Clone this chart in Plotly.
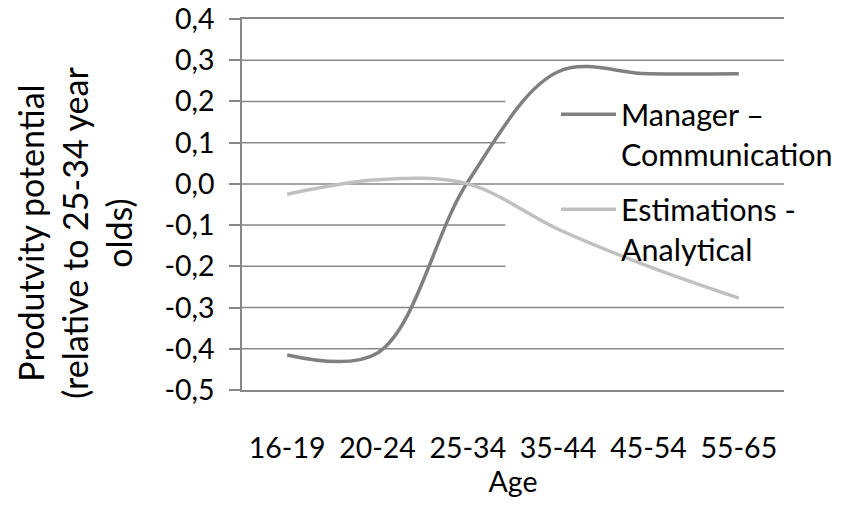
import plotly.graph_objects as go

categories = ["16-19", "20-24", "25-34", "35-44", "45-54", "55-65"]
manager_communication = [-0.415, -0.41, 0.005, 0.272, 0.267, 0.267]
estimations_analytical = [-0.025, 0.01, 0.0, -0.11, -0.2, -0.277]
y_tick_values = [0.4, 0.3, 0.2, 0.1, 0.0, -0.1, -0.2, -0.3, -0.4, -0.5]
y_tick_labels = ["0,4", "0,3", "0,2", "0,1", "0,0", "-0,1", "-0,2", "-0,3", "-0,4", "-0,5"]
# gridlines that stop short where the legend sits
legend_cut_ticks = [0.2, 0.1, -0.1, -0.2]

FONT = "Lato, Carlito, Calibri, sans-serif"
GRID = "#878787"
Y_MIN, Y_MAX = -0.5, 0.4

fig = go.Figure()
fig.add_trace(go.Scatter(
    x=categories, y=manager_communication, mode="lines",
    name="Manager –<br>Communication", legend="legend",
    line=dict(color="#808080", width=3.5, shape="spline", smoothing=1.0),
))
fig.add_trace(go.Scatter(
    x=categories, y=estimations_analytical, mode="lines",
    name="Estimations -<br>Analytical", legend="legend2",
    line=dict(color="#c0c0c0", width=3.5, shape="spline", smoothing=1.0),
))

# horizontal gridlines (interior ticks), drawn beneath the traces
for v in y_tick_values:
    if v in (Y_MIN, Y_MAX):
        continue
    x_end = 0.486 if v in legend_cut_ticks else 1.0
    fig.add_shape(type="line", xref="x domain", yref="y", x0=0, x1=x_end,
                  y0=v, y1=v, line=dict(color=GRID, width=1.5), layer="below")

fig.add_annotation(
    text="Produtvity potential<br>(relative to 25-34 year<br>olds)",
    xref="paper", yref="paper",
    x=(73 - 241.5) / 542.5, y=(390 - 233) / 371.3,
    xanchor="center", yanchor="middle", textangle=-90, showarrow=False,
    font=dict(family=FONT, size=34, color="black"),
)

legend_common = dict(xanchor="left", yanchor="top", bgcolor="rgba(0,0,0,0)",
                     valign="top", font=dict(family=FONT, size=30.5, color="black"),
                     itemwidth=55, xref="container", yref="container")

fig.update_layout(
    width=851, height=509,
    margin=dict(l=241.5, r=67, t=18.7, b=119, autoexpand=False),
    paper_bgcolor="white", plot_bgcolor="white",
    font=dict(family=FONT, size=28.5, color="black"),
    showlegend=True,
    legend=dict(x=556 / 851, y=1 - 88 / 509, **legend_common),
    legend2=dict(x=556 / 851, y=1 - 183 / 509, **legend_common),
    xaxis=dict(
        type="category", range=[-0.5, 5.5], showgrid=False,
        showline=True, linecolor=GRID, linewidth=1.5, mirror=True,
        ticks="", ticklabelstandoff=32, tickangle=0,
        title=dict(text="Age", standoff=6, font=dict(family=FONT, size=28.5)),
        tickfont=dict(family=FONT, size=28.5), zeroline=False,
    ),
    yaxis=dict(
        range=[Y_MIN, Y_MAX], tickvals=y_tick_values, ticktext=y_tick_labels,
        showgrid=False,
        showline=True, linecolor=GRID, linewidth=1.5,
        ticks="outside", ticklen=11, tickcolor=GRID, tickwidth=1.5,
        ticklabelstandoff=9,
        zeroline=False, tickfont=dict(family=FONT, size=28.5),
    ),
)

fig.write_html("out.html")
